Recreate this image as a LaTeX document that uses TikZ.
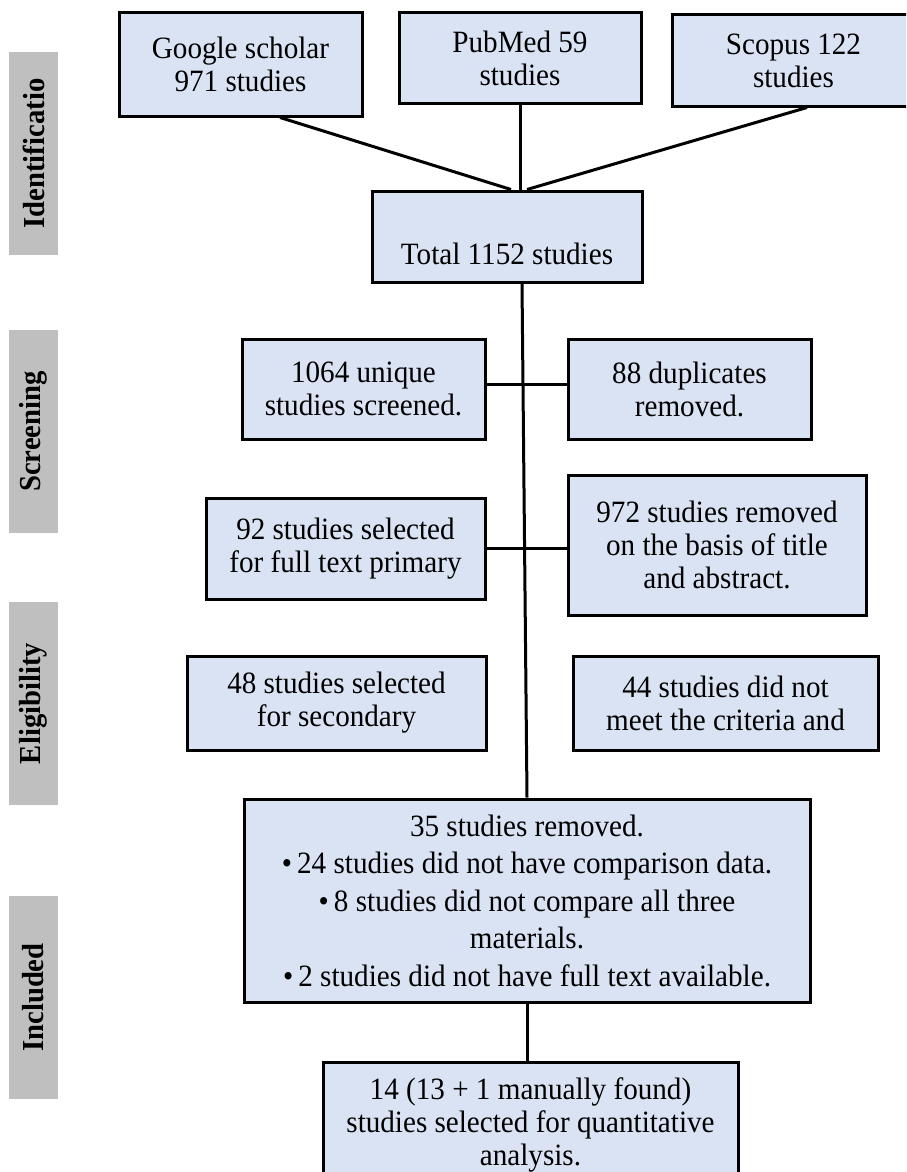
\documentclass[tikz,border=0pt]{standalone}
\usepackage{fontspec}
\setmainfont{Liberation Serif}[FakeStretch=0.94]
\usetikzlibrary{calc}
\definecolor{boxfill}{RGB}{218,227,243}
\definecolor{labelgray}{RGB}{191,191,191}
\begin{document}
\begin{tikzpicture}[x=1pt,y=-1pt,
  flowbox/.style={draw=black, line width=3pt, fill=boxfill, rectangle, align=center,
    inner sep=0pt, font=\fontsize{31}{33}\selectfont},
  conn/.style={line width=3pt},
  phase/.style={fill=labelgray, rectangle, inner sep=0pt, minimum width=203pt,
    minimum height=49pt, rotate=90, font=\bfseries\fontsize{30.5}{33}\selectfont}]
\useasboundingbox (0,0) rectangle (906,1172);
\clip (0,0) rectangle (906,1172);

% phase labels
\node[phase] (pid) at (33.5,153.5) {Identificatio};
\node[phase] (psc) at (33.5,431.5) {Screening};
\node[phase] (pel) at (33.5,703.5) {Eligibility};
\node[phase] (pin) at (33.5,997.5) {Included};

% boxes
\node[flowbox, minimum width=243pt, minimum height=103pt] (g) at (240.5,64.5) {Google scholar\\971 studies};
\node[flowbox, minimum width=242pt, minimum height=90pt] (p) at (520,58) {PubMed 59\\studies};
\node[flowbox, minimum width=243pt, minimum height=91pt] (s) at (793.5,60.5) {Scopus 122\\studies};
\node[flowbox, minimum width=270pt, minimum height=91pt, text height=55pt, text depth=0pt] (t) at (507,236.5) {Total 1152 studies};

\node[flowbox, minimum width=243pt, minimum height=100pt] (u) at (363.5,389) {1064 unique\\studies screened.};
\node[flowbox, minimum width=243pt, minimum height=100pt] (d) at (689.5,389) {88 duplicates\\removed.};
\node[flowbox, minimum width=279pt, minimum height=101pt] (f) at (345.5,548.5) {92 studies selected\\for full text primary};
\node[flowbox, minimum width=298pt, minimum height=140pt] (r) at (717,545) {972 studies removed\\on the basis of title\\and abstract.};

\node[flowbox, minimum width=299pt, minimum height=94pt] (sec) at (336.5,703) {48 studies selected\\for secondary};
\node[flowbox, minimum width=305pt, minimum height=94pt] (nm) at (725.5,703) {44 studies did not\\meet the criteria and};

\node[flowbox, minimum width=566pt, minimum height=203pt, font=\fontsize{31}{37.5}\selectfont] (rm) at (527,900.5)
  {35 studies removed.\\\textbullet\,24 studies did not have comparison data.\\\textbullet\,8 studies did not compare all three\\materials.\\\textbullet\,2 studies did not have full text available.};
\node[flowbox, minimum width=415pt, minimum height=126pt] (fin) at (530.5,1125)
  {14 (13 + 1 manually found)\\studies selected for quantitative\\analysis.};

% connectors
\draw[conn] ([xshift=39.5pt]g.south) -- ([xshift=4pt]t.north);
\draw[conn] (p.south) -- ([xshift=13pt]t.north);
\draw[conn] ([xshift=13.5pt]s.south) -- ([xshift=20pt]t.north);
\draw[conn] ([xshift=15pt]t.south) -- (rm.north);
\draw[conn] ([yshift=5pt]u.east) -- ([yshift=5pt]d.west);
\draw[conn] (f.east) -- (f.east -| r.west);
\draw[conn] (rm.south) -- (rm.south |- fin.north);
\end{tikzpicture}
\end{document}
